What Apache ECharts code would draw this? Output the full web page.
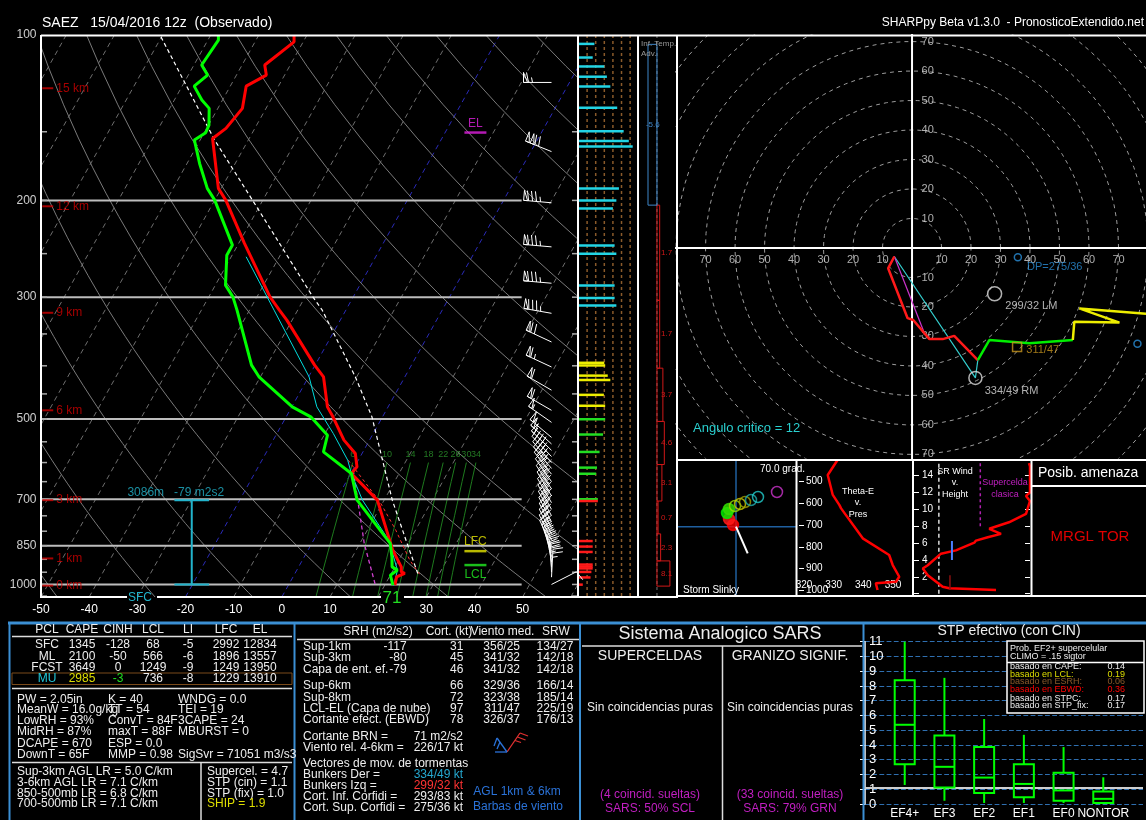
<!DOCTYPE html>
<html><head><meta charset="utf-8"><title>SAEZ 15/04/2016 12z</title>
<script src="https://cdn.jsdelivr.net/npm/echarts@6.0.0/dist/echarts.min.js"></script>
<style>html,body{margin:0;padding:0;background:#000;}#chart{width:1146px;height:820px;}</style>
</head><body><div id="chart"></div>
<script>
// ================= DATA =================
const tempP = [100,102.9,113.4,118.3,123.9,136,147.9,154.3,190.2,199.8,239.5,299.6,316.8,330.3,398.9,418.9,475.1,495.4,546.2,577.5,610.9,628,702.4,819.1,866.1,928.9,948.6,955,968.6,1002.9];
const tempC = [-62.7,-61.9,-65.3,-63.8,-66.7,-64.9,-66.0,-67.6,-60.6,-57.7,-48.8,-37.3,-33.8,-31.1,-20.1,-16.9,-12.6,-10.3,-5.3,-1.4,0.5,0.1,8.6,15.2,17.6,21.3,21.9,22.8,21.5,22.1];
const dewP = [100,102.2,113.4,118.3,123.9,131.3,136,145.9,150.6,155.3,171.3,190.2,199.8,241.2,251.6,285.2,299.6,316.8,398.9,418.9,475.1,495.4,534.9,573.7,628,702.4,842.1,890.7,928.9,941.8,961.8,1002.9];
const dewC = [-78.4,-77.8,-78.4,-76.0,-77.5,-74.3,-71.8,-69.9,-69.7,-71.2,-67.4,-62.9,-60.0,-51.1,-51.1,-47.9,-45.0,-42.6,-33.2,-30.3,-19.9,-14.9,-9.3,-8.2,0.1,4.4,16.3,18.2,19.4,20.9,20.0,21.7];
const wbP = [253.3,316.8,418.9,475.1,531.1,594,628,702.4,830.5,941.8,1004];
const wbC = [-46.9,-34.9,-19.9,-14.8,-8.3,-2.2,0.1,5.5,15.6,20.9,21.9];
const parP = [100.8,155.3,208.3,299.6,316.8,418.9,495.4,702.4,842.1,955];
const parC = [-90.1,-67.0,-49.7,-28.4,-24.9,-10.3,-2.2,11.7,19.8,25.5];
const vpP = [594,708.3,796.4,903.2,961.8];
const vpC = [-2.1,9.4,15.9,22.3,26.2];
const dcP = [619.4,842.1,1004];
const dcC = [0.1,10.9,18.1];
const isobarP = [200,300,500,700,850,1000];
const pressLabels = [100,200,300,500,700,850,1000];
const tempTicks = [-50,-40,-30,-20,-10,0,10,20,30,40,50];
const hgtKm = [0,1,3,6,9,12,15];
const hgtP = [1005,896.7,702.4,482,320.3,205,125];
const mixW = [6,10,14,18,22,26,30,34];
const lvlName = ['LFC','LCL','EL'];
const lvlP = [869.7,922,150.5];
const effP = [1000,702.4];
const effDepth = '3086m';
const effSrh = '-79 m2s2';
const sfcTdF = 71;
// wind speed bars
const windP = [103.8,109.9,114.1,119.1,124.1,135.6,149.7,155.9,159.5,190.2,200.0,206.8,241.5,250.1,285.6,301.2,310.6,395.0,399.4,416.8,424.4,451.8,472.9,500.4,533.5,573.9,612.9,628.8,699.7,705.0,833.7,853.2,872.7,920,927.7,935,948.9,971.1,1000.8];
const windSpd = [37,33,60,66,74,90,105,117,126,94,88,80,84,88,84,84,88,60,62,68,74,59,62,62,57,49,43,41,45,45,33,33,33,33,33,33,30,28,10];
const spdGrid = [20,40,60,80,100,120];
// wind barbs
const barbP = [122,163,202,243,283,321,362,402,443,482,507,540,555,570,585,600,615,630,650,670,690,710,730,750,770,790,810,830,850,870,890,910,930,950,970,1000];
const barbDir = [270,292,275,275,275,280,295,295,300,300,305,310,312,314,316,318,320,322,325,327,329,330,331,332,333,334,334,334,335,340,345,350,355,358,3,63];
const barbSpd = [65,120,85,85,85,85,70,65,60,60,55,55,50,50,45,45,45,40,45,45,45,45,40,40,35,35,35,35,35,35,30,30,30,25,25,10];
// inferred temperature advection
const advBot = [1007,906,809,705,605,505,404,304,204];
const advTop = [906,809,705,605,505,404,304,204,104];
const advVal = [8.1,2.3,0.7,3.1,4.6,3.7,1.7,1.7,-5.6];
// hodograph (kt)
const hodoU = [-6.0,-8.1,-1.5,0.4,5.9,10.4,14.3,22.3,26.2,39.8,54.5,55.0,70.3,56.7,82.0];
const hodoV = [-2.9,-6.9,-23.8,-24.4,-30.9,-30.9,-29.8,-38.0,-31.2,-32.3,-31.2,-25.0,-25.3,-20.5,-22.5];
const hodoBreaks = [7,10];
const hodoCrit = [4.2,-28.9];
const hodoMean = [35.6,-33.6];
const ringR = [10,20,30,40,50,60,70,80,90,100,110];
const ringLab = [10,20,30,40,50,60,70];
const stormName = ['Bunkers Der =','Bunkers Izq =','Cort. Inf. Corfidi =','Cort. Sup. Corfidi ='];
const stormDir = [334,299,293,275];
const stormSpd = [49,32,83,36];
const critAngle = 12;
// storm slinky
const slinkyX = [-3,-7,-9,-7,-1,4,9,15,22,41];
const slinkyY = [1.7,7.7,13.7,17.7,20.7,22.7,24.7,26.7,29.7,34.7];
const slinkyVec = [11.7,-26.6];
const slinkyAng = '70.0 grad.';
// theta-e v pres
const thetaEP = [400,469,561,607,623,761,838,884,938,961,968,999];
const thetaE = [331.3,328.0,329.7,331.9,332.5,339.8,348.7,349.9,352.1,351.0,344.2,344.8];
// SR wind v height
const srwH = [0.44,0.64,0.82,2.2,2.99,3.38,4.75,5.14,6.05,6.3,6.7,7.1,7.7,8.47,9.46,11.0,11.6,12.0,15.1,15.5];
const srwS = [49.5,21.3,17.3,8.3,5.3,8.3,16.3,25.3,36.4,37.4,44.5,52.5,45.4,57.3,67.6,70,67.6,70,70,69.4];
const srwRef = [15,40];
const srwSupBase = 8;
const srMeanS = [21.7,22.9];
const srMeanH0 = [0.44,4.0];
const srMeanH1 = [2.2,6.25];
// tables
const pclName = ['SFC','ML','FCST','MU'];
const pclCape = [1345,2100,3649,2985];
const pclCinh = [-128,-50,0,-3];
const pclLcl = [68,566,1249,736];
const pclLi = [-5,-6,-9,-8];
const pclLfc = [2992,1896,1249,1229];
const pclEl = [12834,13557,13950,13910];
const idxCol1 = ['PW = 2.05in','MeanW = 16.0g/kg','LowRH = 93%','MidRH = 87%','DCAPE = 670','DownT = 65F'];
const idxCol2 = ['K = 40','TT = 54','ConvT = 84F','maxT = 88F','ESP = 0.0','MMP = 0.98'];
const idxCol3 = ['WNDG = 0.0','TEI = 19','3CAPE = 24','MBURST = 0','','SigSvr = 71051 m3/s3'];
const lapseTxt = ['Sup-3km AGL LR = 5.0 C/km','3-6km AGL LR = 7.1 C/km','850-500mb LR = 6.8 C/km','700-500mb LR = 7.1 C/km'];
const svrTxt = ['Supercel. = 4.7','STP (cin) = 1.1','STP (fix) = 1.0','SHIP = 1.9'];
const kinLabel = ['Sup-1km','Sup-3km','Capa de ent. ef.','Sup-6km','Sup-8km','LCL-EL (Capa de nube)','Cortante efect. (EBWD)'];
const kinSrh = ['-117','-80','-79','','','',''];
const kinShear = [31,45,46,66,72,97,78];
const kinMean = ['356/25','341/32','341/32','329/36','323/38','311/47','326/37'];
const kinSrw = ['134/27','142/18','142/18','166/14','185/14','225/19','176/13'];
const brn = '71 m2/s2';
const sr46 = '226/17 kt';
// STP box plot
const stpCats = ['EF4+','EF3','EF2','EF1','EF0','NONTOR'];
const stpMin = [1.29,0.22,0.07,0.07,0.07,0.05];
const stpQ1 = [2.7,1.12,0.74,0.45,0.22,0.07];
const stpMed = [5.37,2.52,1.79,1.36,0.92,0.35];
const stpQ3 = [8.39,4.64,3.86,2.7,2.12,0.85];
const stpMax = [11.0,8.55,5.76,4.69,3.86,1.81];
const stpCin = 1.1;
const probLabel = ['basado en CAPE:','basado en LCL:','basado en ESRH:','basado en EBWD:','basado en STPC:','basado en STP_fix:'];
const probVal = ['0.14','0.19','0.06','0.36','0.17','0.17'];

// ================= BUILD =================
const FONT = '"Liberation Sans", Arial, Helvetica, sans-serif';
const SKEW = 27.7, PBOT = 1054, PTOP = 100;
const skx = (t,p) => t + SKEW*Math.log(PBOT/p);
const prof = (ps,ts) => ps.map((p,i)=>[skx(ts[i],p), p]);
const series = [];
function line(data, color, width, type, xi, yi, z, extra){
  series.push(Object.assign({type:'line', xAxisIndex:xi, yAxisIndex:yi, data:data, symbol:'none', silent:true,
    clip:true, z:z||2, lineStyle:{color:color, width:width, type:type||'solid'}, emphasis:{disabled:true}}, extra||{}));
}
const hgtColor = p => p>=hgtP[2] ? '#ff1a1a' : p>=hgtP[3] ? '#22dd22' : p>=hgtP[4] ? '#eeee00' : '#22d4e4';

// ---- Skew-T background
for(let t=-110;t<=60;t+=10){
  const blue = (t===0||t===-20);
  line([[skx(t,PBOT),PBOT],[skx(t,PTOP),PTOP]], blue?'#2a2ab8':'#6e6e6e', 1, [5,4], 0,0,1);
}
const adP=[]; for(let p=PBOT;p>PTOP;p-=20) adP.push(p); adP.push(PTOP);
for(let th=-50; th<=250; th+=20){
  line(adP.map(p=>[skx((th+273.15)*Math.pow(p/1000,0.2857)-273.15,p),p]), '#7a7a7a', 1, 'solid', 0,0,1);
}
const mrP=[PBOT,1000,950,900,850,800,750,700,650,600];
const mrTop=[];
mixW.forEach(w=>{
  const pts = mrP.map(p=>{const e=w*p/(622+w); const l=Math.log(e/6.112); return [skx(243.5*l/(17.67-l),p),p];});
  line(pts,'#1e7a1e',1,'solid',0,0,1);
  mrTop.push([pts[pts.length-1][0], 600, w]);
});
series.push({type:'scatter', xAxisIndex:0, yAxisIndex:0, data:mrTop, symbolSize:1, silent:true, z:3,
  itemStyle:{color:'rgba(0,0,0,0)'}, label:{show:true, position:'top', distance:3, color:'#2c962c', fontSize:9, fontFamily:FONT, formatter:p=>p.value[2]}});
isobarP.forEach(p=> line([[-50,p],[49.8,p]], '#bdbdbd', 2, 'solid', 0,0,2));
const tickP=[]; for(let p=150;p<=1050;p+=50) tickP.push(p);
series.push({type:'custom', xAxisIndex:0, yAxisIndex:0, silent:true, z:3, data:tickP.map(p=>[-50,p]),
  renderItem:(params,api)=>{ const a=api.coord([-50,api.value(1)]); const b=api.coord([61.5,api.value(1)]);
    return {type:'group', children:[
      {type:'line', shape:{x1:a[0],y1:a[1],x2:a[0]+6,y2:a[1]}, style:{stroke:'#aaa', lineWidth:1.5}},
      {type:'line', shape:{x1:b[0]-6,y1:b[1],x2:b[0],y2:b[1]}, style:{stroke:'#aaa', lineWidth:1.5}}]}; }});

// ---- Profiles
line(prof(dcP,dcC), '#d040d0', 1.3, [4,3], 0,0,5);
line(prof(vpP,vpC), '#ff3030', 1, [3,3], 0,0,5);
line(prof(parP,parC), '#ffffff', 1.2, [4,3], 0,0,5);
line(prof(wbP,wbC), '#00dede', 1, 'solid', 0,0,5);
line(prof(tempP,tempC), '#ff0000', 3, 'solid', 0,0,6);
line(prof(dewP,dewC), '#00ff00', 3, 'solid', 0,0,6);

// ---- Axis annotations
series.push({type:'scatter', xAxisIndex:0, yAxisIndex:0, silent:true, z:8, symbolSize:1, itemStyle:{color:'rgba(0,0,0,0)'},
  data:pressLabels.map(p=>[-50,p]), clip:false,
  label:{show:true, position:'left', distance:4, color:'#fff', fontSize:12, fontFamily:FONT, formatter:p=>p.value[1]}});
series.push({type:'scatter', xAxisIndex:0, yAxisIndex:0, silent:true, z:8, symbol:'rect', symbolSize:[11,2],
  itemStyle:{color:'#d00000'}, data:hgtP.map((p,i)=>[-48.6,p,hgtKm[i]]),
  label:{show:true, position:'right', distance:3, color:'#d00000', fontSize:12, fontFamily:FONT, formatter:p=>p.value[2]+' km'}});
const lvlCol = ['#e6e600','#22ee22','#e020e0'];
series.push({type:'scatter', xAxisIndex:0, yAxisIndex:0, silent:true, z:8, symbol:'rect', symbolSize:[22,2.5],
  data:lvlP.map((p,i)=>({value:[40.2,p], itemStyle:{color:lvlCol[i]},
    label:{show:true, position:lvlName[i]==='LCL'?'bottom':'top', distance:2, color:lvlCol[i], fontSize:12, fontFamily:FONT, formatter:lvlName[i]}}))});
// effective inflow layer
const EFX = -18.7;
line([[EFX,effP[0]],[EFX,effP[1]]], '#22b4cc', 2, 'solid', 0,0,7);
effP.forEach(p=> line([[EFX-3.6,p],[EFX+3.6,p]], '#22b4cc', 2, 'solid', 0,0,7));
series.push({type:'scatter', xAxisIndex:0, yAxisIndex:0, silent:true, z:8, symbolSize:1, itemStyle:{color:'rgba(0,0,0,0)'},
  data:[[EFX,effP[1]]], label:{show:true, position:'top', distance:1, offset:[-16,0], color:'#22b4cc', fontSize:12, fontFamily:FONT, formatter:effDepth+'   '+effSrh}});

// ---- Wind barbs
const BARB_X = 56.0;
function barb(cx,cy,dir,spd){
  const ch=[]; const L=28, F=10, G=4, st={stroke:'#fff', lineWidth:1, fill:'none'};
  const r=dir*Math.PI/180, ux=Math.sin(r), uy=-Math.cos(r), px=-uy, py=ux;
  const tx0=cx+ux*L, ty0=cy+uy*L;
  ch.push({type:'line', shape:{x1:cx,y1:cy,x2:tx0,y2:ty0}, style:st});
  let s=Math.round(spd/5)*5, d=0;
  while(s>=50){ const ax=tx0-ux*d, ay=ty0-uy*d, bx=tx0-ux*(d+G), by=ty0-uy*(d+G);
    ch.push({type:'polygon', shape:{points:[[ax,ay],[ax+px*F,ay+py*F],[bx,by]]}, style:st}); d+=G+1; s-=50; }
  while(s>=10){ const ax=tx0-ux*d, ay=ty0-uy*d;
    ch.push({type:'line', shape:{x1:ax,y1:ay,x2:ax+px*F+ux*2,y2:ay+py*F+uy*2}, style:st}); d+=G; s-=10; }
  if(s>=5){ const ax=tx0-ux*d, ay=ty0-uy*d;
    ch.push({type:'line', shape:{x1:ax,y1:ay,x2:ax+px*F*0.5+ux,y2:ay+py*F*0.5+uy}, style:st}); }
  return {type:'group', children:ch};
}
series.push({type:'custom', xAxisIndex:0, yAxisIndex:0, silent:true, clip:false, z:7,
  data:barbP.map((p,i)=>[BARB_X,p,barbDir[i],barbSpd[i]]),
  renderItem:(params,api)=>{ const pt=api.coord([api.value(0),api.value(1)]); return barb(pt[0],pt[1],api.value(2),api.value(3)); }});

// ---- Wind speed bars (grid 1)
spdGrid.forEach(v=> line([[v,PTOP],[v,PBOT]], '#8a5a2a', 1.5, [3,3], 1,1,1));
series.push({type:'custom', xAxisIndex:1, yAxisIndex:1, silent:true, z:4, data:windP.map((p,i)=>[windSpd[i],p]),
  renderItem:(params,api)=>{ const p=api.value(1); const a=api.coord([0,p]), b=api.coord([api.value(0),p]);
    return {type:'line', shape:{x1:a[0],y1:a[1],x2:b[0],y2:b[1]}, style:{stroke:hgtColor(p), lineWidth:2.5}}; }});

// ---- Inferred temperature advection (grid 2)
line([[0,PTOP],[0,PBOT]], '#777', 1, [3,3], 2,2,1);
series.push({type:'custom', xAxisIndex:2, yAxisIndex:2, silent:true, z:4, data:advVal.map((v,i)=>[v,advBot[i],advTop[i]]),
  renderItem:(params,api)=>{ const v=api.value(0), pb=api.value(1), pt=api.value(2);
    const a=api.coord([0,pt]), b=api.coord([v,pb]); const neg=v<0; const col=neg?'#3f86c8':'#d01818';
    const m=api.coord([neg?-2.6:2.6, Math.sqrt(pb*pt)]);
    return {type:'group', children:[
      {type:'rect', shape:{x:Math.min(a[0],b[0]), y:a[1], width:Math.max(Math.abs(b[0]-a[0]),1), height:b[1]-a[1]}, style:{stroke:col, fill:'none', lineWidth:1}},
      {type:'text', x:m[0], y:m[1], style:{text:v.toFixed(1), fill:col, font:'8px '+FONT, textAlign:neg?'center':'left', textVerticalAlign:'middle', align:neg?'center':'left', verticalAlign:'middle'}}]}; }});

// ---- Hodograph (grid 3)
ringR.forEach(r=>{ const pts=[]; for(let a=0;a<=360;a+=4){ const t=a*Math.PI/180; pts.push([r*Math.cos(t), r*Math.sin(t)]); }
  line(pts,'#9c9c9c',1,[4,4],3,3,1); });
line([[0,-90],[0,90]], '#ffffff', 2, 'solid', 3,3,2);
line([[-90,0],[90,0]], '#ffffff', 2, 'solid', 3,3,2);
series.push({type:'scatter', xAxisIndex:3, yAxisIndex:3, silent:true, z:3, symbolSize:1, itemStyle:{color:'rgba(0,0,0,0)'},
  data:ringLab.map(r=>[0,r,r]).concat(ringLab.map(r=>[0,-r,r])),
  label:{show:true, position:'right', distance:9, color:'#d8d8d8', fontSize:11, fontFamily:FONT, formatter:p=>p.value[2]}});
series.push({type:'scatter', xAxisIndex:3, yAxisIndex:3, silent:true, z:3, symbolSize:1, itemStyle:{color:'rgba(0,0,0,0)'},
  data:ringLab.map(r=>[-r,0,r]).concat(ringLab.map(r=>[r,0,r])),
  label:{show:true, position:'bottom', distance:6, color:'#d8d8d8', fontSize:11, fontFamily:FONT, formatter:p=>p.value[2]}});
const hodoPts = hodoU.map((u,i)=>[u,hodoV[i]]);
const uv = (d,s)=>{ const r=d*Math.PI/180; return [-s*Math.sin(r), -s*Math.cos(r)]; };
const rm = uv(stormDir[0],stormSpd[0]), lm = uv(stormDir[1],stormSpd[1]);
const cup = uv(stormDir[2],stormSpd[2]), cdn = uv(stormDir[3],stormSpd[3]);
line([hodoPts[0], rm, hodoPts[hodoBreaks[0]]], '#33cccc', 1.2, 'solid', 3,3,5);
line([hodoPts[0], hodoCrit], '#cc33cc', 1.2, 'solid', 3,3,5);
line(hodoPts.slice(0,hodoBreaks[0]+1), '#ff1a1a', 2.5, 'solid', 3,3,6);
line(hodoPts.slice(hodoBreaks[0],hodoBreaks[1]+1), '#00ee00', 2.5, 'solid', 3,3,6);
line(hodoPts.slice(hodoBreaks[1]), '#eeee00', 2.5, 'solid', 3,3,6);
const mk = (pt,sym,size,col,txt,dist,off,tcol)=>({value:pt, symbol:sym, symbolSize:size,
  itemStyle:{color:'rgba(0,0,0,0)', borderColor:col, borderWidth:1.5},
  label:{show:!!txt, position:'right', distance:dist, offset:off, color:tcol||col, fontSize:11, fontFamily:FONT, formatter:txt||''}});
series.push({type:'scatter', xAxisIndex:3, yAxisIndex:3, silent:true, z:7, data:[
  mk(rm,'circle',13,'#dddddd',stormDir[0]+'/'+stormSpd[0]+' RM',2,[0,13]),
  mk(lm,'circle',14,'#dddddd',stormDir[1]+'/'+stormSpd[1]+' LM',3,[0,12]),
  mk(hodoMean,'rect',9,'#c8961e',kinMean[5],4,[0,3]),
  mk(cdn,'circle',7,'#2a8fd8','DP='+stormDir[3]+'/'+stormSpd[3],5,[0,10]),
  mk(cup,'circle',7,'#2a8fd8','',0,[0,0])]});

// ---- Storm slinky (grid 4)
line([[0,-80],[0,80]], '#1f5f9f', 1.5, 'solid', 4,4,1);
line([[-80,0],[80,0]], '#1f5f9f', 1.5, 'solid', 4,4,1);
line([[0,0],slinkyVec], '#ffffff', 2, 'solid', 4,4,6);
const slPal = ['#ff0000','#ff1a1a','#00ee00','#33dd00','#99dd00','#cccc00','#a0a000','#22aaaa','#22cccc','#cc33cc'];
series.push({type:'scatter', xAxisIndex:4, yAxisIndex:4, silent:true, z:5, symbolSize:11,
  data:slinkyX.map((x,i)=>({value:[x,slinkyY[i]], itemStyle:{color:i<4?slPal[i]:'rgba(0,0,0,0)', borderColor:slPal[i], borderWidth:1.5}}))});

// ---- Theta-E v Pres (grid 5)
line(thetaEP.map((p,i)=>[thetaE[i],p]), '#ff0000', 2.5, 'solid', 5,5,5);

// ---- SR wind v height (grid 6)
line([[srwRef[0],0],[srwRef[0],16]], '#dddddd', 1.5, [4,3], 6,6,2);
line([[srwRef[1],srwSupBase],[srwRef[1],16]], '#b020b0', 1.5, [3,3], 6,6,2);
line(srwH.map((h,i)=>[srwS[i],h]), '#ff0000', 2.5, 'solid', 6,6,5);
line([[srMeanS[0],srMeanH0[0]],[srMeanS[0],srMeanH1[0]]], '#8a1010', 1.5, 'solid', 6,6,6);
line([[srMeanS[1],srMeanH0[1]],[srMeanS[1],srMeanH1[1]]], '#4a7fff', 2, 'solid', 6,6,6);

// ---- STP box plot (grid 7)
series.push({type:'custom', xAxisIndex:7, yAxisIndex:8, silent:true, z:5, clip:false,
  data:stpCats.map((c,i)=>[i+1,stpMin[i],stpQ1[i],stpMed[i],stpQ3[i],stpMax[i]]), encode:{x:0, y:[1,2,3,4,5]},
  renderItem:(params,api)=>{ const x=api.value(0); const P=k=>api.coord([x,api.value(k)]);
    const mn=P(1), q1=P(2), md=P(3), q3=P(4), mx=P(5), hw=10, st={stroke:'#00ff00', lineWidth:2, fill:'none'};
    return {type:'group', children:[
      {type:'line', shape:{x1:mx[0],y1:mx[1],x2:q3[0],y2:q3[1]}, style:st},
      {type:'line', shape:{x1:q1[0],y1:q1[1],x2:mn[0],y2:mn[1]}, style:st},
      {type:'rect', shape:{x:q3[0]-hw,y:q3[1],width:2*hw,height:q1[1]-q3[1]}, style:st},
      {type:'line', shape:{x1:md[0]-hw,y1:md[1],x2:md[0]+hw,y2:md[1]}, style:st}]}; },
  markLine:{silent:true, symbol:'none', label:{show:false}, lineStyle:{color:'#cfcfcf', width:2, type:'solid'}, data:[{yAxis:stpCin}]}});

// ================= AXES =================
const hidden = {show:false};
const logY = gi => ({gridIndex:gi, type:'log', min:PTOP, max:PBOT, inverse:true, show:false});
const option = {
  backgroundColor:'#000', animation:false,
  grid:[
    {left:41, top:35, width:537, height:562},
    {left:578.5, top:35, width:58.5, height:562},
    {left:640, top:35, width:36, height:562},
    {left:676, top:35, width:470, height:423},
    {left:678, top:461, width:117, height:134},
    {left:804, top:460, width:108, height:136.7},
    {left:914, top:460, width:116, height:133.7},
    {left:865, top:641.7, width:283, height:164.3}
  ],
  xAxis:[
    {gridIndex:0, type:'value', min:-50, max:61.5, interval:10, axisLine:hidden, axisTick:hidden, splitLine:hidden,
      axisLabel:{color:'#fff', fontSize:12, fontFamily:FONT, margin:7, formatter:v=> tempTicks.indexOf(v)>=0 ? String(v) : ''}},
    {gridIndex:1, type:'value', min:0, max:136, show:false},
    {gridIndex:2, type:'value', min:-10.6, max:11.9, show:false},
    {gridIndex:3, type:'value', min:-80, max:79.3, show:false},
    {gridIndex:4, type:'value', min:-58, max:59, show:false},
    {gridIndex:5, type:'value', min:320, max:356.4, interval:10, axisLine:hidden, axisTick:hidden, splitLine:hidden,
      axisLabel:{inside:true, color:'#fff', fontSize:10, fontFamily:FONT, margin:6, formatter:v=> (v%10===0 && v<=350) ? String(v) : ''}},
    {gridIndex:6, type:'value', min:0, max:70, show:false},
    {gridIndex:7, type:'category', data:[''].concat(stpCats,['']), boundaryGap:false, axisLine:hidden, axisTick:hidden, splitLine:hidden,
      axisLabel:{interval:0, color:'#fff', fontSize:12, fontFamily:FONT, margin:4}}
  ],
  yAxis:[
    logY(0), logY(1), logY(2),
    {gridIndex:3, type:'value', min:-71.2, max:72.2, show:false},
    {gridIndex:4, type:'value', min:-68.3, max:65.7, show:false},
    {gridIndex:5, type:'value', min:400, max:1030, interval:100, inverse:true, axisLine:hidden, splitLine:hidden,
      axisTick:{show:true, length:5, lineStyle:{color:'#fff'}},
      axisLabel:{inside:true, color:'#fff', fontSize:10, fontFamily:FONT, margin:2, formatter:v=> (v>=500 && v<=1000 && v%100===0) ? String(v) : ''}},
    {gridIndex:6, type:'value', min:0, max:15.86, interval:2, axisLine:hidden, splitLine:hidden,
      axisTick:{show:true, inside:true, length:5, lineStyle:{color:'#fff'}},
      axisLabel:{inside:true, color:'#fff', fontSize:10, fontFamily:FONT, margin:8, formatter:v=> (v>=2 && v<=14 && v%2===0) ? String(v) : ''}},
    {gridIndex:6, type:'value', position:'right', min:0, max:15.86, interval:2, axisLine:hidden, splitLine:hidden, axisLabel:hidden,
      axisTick:{show:true, inside:true, length:5, lineStyle:{color:'#fff'}}},
    {gridIndex:7, type:'value', min:0, max:11, interval:1, axisLine:{show:true, lineStyle:{color:'#fff', width:1.5}},
      axisTick:{show:true, length:5, lineStyle:{color:'#fff'}},
      splitLine:{show:true, lineStyle:{color:'#2f6fb0', type:'dashed', width:1.2}},
      axisLabel:{inside:true, color:'#fff', fontSize:13, fontFamily:FONT, margin:4}}
  ],
  series:series
};

// ================= GRAPHIC (frames & text panels) =================
function tx(x,y,text,fill,size,align){
  return {type:'text', x:x, y:y, silent:true, z:50, style:{text:String(text), fill:fill||'#eee', font:(size||12)+'px '+FONT,
    textAlign:align||'left', align:align||'left', textVerticalAlign:'middle', verticalAlign:'middle'}};
}
function ln(x1,y1,x2,y2,color,w){ return {type:'line', silent:true, z:40, shape:{x1:x1,y1:y1,x2:x2,y2:y2}, style:{stroke:color, lineWidth:w||1}}; }
function rc(x,y,w,h,stroke,fill,lw){ return {type:'rect', silent:true, z:39, shape:{x:x,y:y,width:w,height:h}, style:{stroke:stroke, fill:fill, lineWidth:lw||1}}; }
const G = [];
const W='#ffffff', BL='#3b8fd4', TXT='#eeeeee';
// upper frames
G.push(ln(41,35.5,1146,35.5,W,2), ln(41,35,41,598,W,2), ln(578,35,578,598,W,2), ln(638,35,638,598,W,2), ln(677,35,677,598,W,2));
G.push(ln(41,597,127,597,W,2), ln(157,597,381,597,W,2), ln(404,597,677,597,W,2));
G.push(ln(677,460,1146,460,W,2), ln(677,596,1146,596,W,2), ln(796.5,460,796.5,596,W,2), ln(913,460,913,596,W,2), ln(1031.5,460,1031.5,596,W,2), ln(1031.5,486,1146,486,W,2));
G.push(tx(42,23,'SAEZ   15/04/2016 12z  (Observado)',W,14));
G.push(tx(1144,23,'SHARPpy Beta v1.3.0  - PronosticoExtendido.net',W,12,'right'));
G.push(tx(140,598,'SFC','#22b4cc',12,'center'), tx(392,598,String(sfcTdF),'#22dd22',17,'center'));
G.push(tx(641,44,'Inf. Temp.','#9a9a9a',8), tx(641,53.5,'Adv.','#9a9a9a',8));
G.push(tx(693,428,'Angulo critico = '+critAngle,'#2ad0d0',13));
G.push(tx(760,469,slinkyAng,W,10), tx(683,590,'Storm Slinky',W,10));
G.push(tx(858,492,'Theta-E',W,9,'center'), tx(858,503,'v.',W,9,'center'), tx(858,515,'Pres',W,9,'center'));
G.push(tx(955,472,'SR Wind',W,9,'center'), tx(955,483,'v.',W,9,'center'), tx(955,495,'Height',W,9,'center'));
G.push(tx(1005,483,'Supercelda','#c020c0',9,'center'), tx(1005,495,'clasica','#c020c0',9,'center'));
G.push(tx(1038,473,'Posib. amenaza',W,14), tx(1090,537,'MRGL TOR','#e00000',15,'center'));
// bottom frames
G.push(ln(8,623,1146,623,BL,3), ln(9.5,622,9.5,820,BL,2), ln(294.5,622,294.5,820,BL,2), ln(580,622,580,820,BL,2), ln(863.5,622,863.5,820,BL,2));
G.push(ln(12,636.5,292,636.5,'#ddd',1.5), ln(12,688.5,292,688.5,'#ddd',1.5), ln(12,762.5,292,762.5,'#ddd',1.5), ln(201,762.5,201,820,'#ddd',1.5));
G.push(rc(12,673,280,11.5,'#7a4a1a','none',1));
G.push(ln(297,639.5,579,639.5,'#ddd',1.5));
G.push(ln(582,646,862,646,'#ddd',1.5), ln(722.5,646,722.5,820,'#ddd',1.5));
// thermo table
const thCols=[47,82,118,153,188,226,260];
['PCL','CAPE','CINH','LCL','LI','LFC','EL'].forEach((h,i)=>G.push(tx(thCols[i],630,h,TXT,12,'center')));
const thRows=[645,656.3,667.5,678.7];
pclName.forEach((n,r)=>{
  [n,pclCape[r],pclCinh[r],pclLcl[r],pclLi[r],pclLfc[r],pclEl[r]].forEach((v,i)=>{
    let c=TXT; if(n==='MU'){ if(i===0)c='#22c8d8'; if(i===1)c='#dede00'; if(i===2)c='#22dd22'; }
    G.push(tx(thCols[i],thRows[r],v,c,12,'center'));
  });
});
const idxRows=[699.3,710,720.7,732,743.3,754.3];
idxCol1.forEach((t,i)=>G.push(tx(17,idxRows[i],t,TXT,12)));
idxCol2.forEach((t,i)=>G.push(tx(108,idxRows[i],t,TXT,12)));
idxCol3.forEach((t,i)=>{ if(t) G.push(tx(178,idxRows[i],t,TXT,12)); });
const lrRows=[771.7,782.3,793.3,804];
lapseTxt.forEach((t,i)=>G.push(tx(17,lrRows[i],t,TXT,12)));
svrTxt.forEach((t,i)=>G.push(tx(207,lrRows[i],t,i===3?'#dede00':TXT,12)));
// kinematic table
G.push(tx(378,631.7,'SRH (m2/s2)',TXT,12,'center'), tx(449,631.7,'Cort. (kt)',TXT,12,'center'), tx(502.5,631.7,'Viento med.',TXT,12,'center'), tx(556,631.7,'SRW',TXT,12,'center'));
const kinRows=[646.7,657.7,669.3,686,697.3,708.3,719.3];
kinLabel.forEach((t,i)=>{
  G.push(tx(303,kinRows[i],t,TXT,12));
  if(kinSrh[i]) G.push(tx(406.7,kinRows[i],kinSrh[i],TXT,12,'right'));
  G.push(tx(463.3,kinRows[i],kinShear[i],TXT,12,'right'), tx(520,kinRows[i],kinMean[i],TXT,12,'right'), tx(573.3,kinRows[i],kinSrw[i],TXT,12,'right'));
});
G.push(tx(303,736.7,'Cortante BRN =',TXT,12), tx(463,736.7,brn,TXT,12,'right'));
G.push(tx(303,747.3,'Viento rel. 4-6km =',TXT,12), tx(463,747.3,sr46,TXT,12,'right'));
G.push(tx(303,764,'Vectores de mov. de tormentas',TXT,12));
const stRows=[775,785.7,796.3,807.7], stCols=['#25a8d0','#ff3333',TXT,TXT];
stormName.forEach((n,i)=>{ G.push(tx(303,stRows[i],n,TXT,12), tx(463,stRows[i],stormDir[i]+'/'+stormSpd[i]+' kt',stCols[i],12,'right')); });
G.push(ln(507,752,520,733,'#e03030',1.3), ln(520,733,528,736,'#e03030',1.3), ln(517.5,737,525.5,740,'#e03030',1.3), ln(515,740.5,521,742.5,'#e03030',1.3));
G.push(ln(507,752,497,738,'#2a72d8',1.3), ln(497,738,494,746,'#2a72d8',1.3), ln(500,742,497,749,'#2a72d8',1.3), ln(495,752,507,752,'#2a72d8',1.3));
G.push(tx(517,792,'AGL 1km & 6km','#2a72d8',12,'center'), tx(518,806.7,'Barbas de viento','#2a72d8',12,'center'));
// SARS
G.push(tx(720,634.5,'Sistema Analogico SARS',TXT,18,'center'));
G.push(tx(650,656,'SUPERCELDAS',TXT,14,'center'), tx(790,656,'GRANIZO SIGNIF.',TXT,14,'center'));
G.push(tx(650,707.3,'Sin coincidencias puras',TXT,12,'center'), tx(790,707.3,'Sin coincidencias puras',TXT,12,'center'));
G.push(tx(650,795,'(4 coincid. sueltas)','#c21fc2',12,'center'), tx(650,808.7,'SARS: 50% SCL','#c21fc2',12,'center'));
G.push(tx(790,795,'(33 coincid. sueltas)','#c21fc2',12,'center'), tx(790,808.7,'SARS: 79% GRN','#c21fc2',12,'center'));
// STP
G.push(tx(1009,631,'STP efectivo (con CIN)',TXT,14,'center'));
G.push(rc(1007,641,137,72,'#ffffff','#000000',1.5), ln(1007,662.5,1144,662.5,'#ffffff',1.5));
G.push(tx(1010,648.5,'Prob. EF2+ supercelular',TXT,9), tx(1010,656.5,'CLIMO = .15 sigtor',TXT,9));
const prRows=[666.7,674.3,681.9,690,698.1,706], prCols=[TXT,'#dede00','#8b5a2b','#ff0000',TXT,TXT];
probLabel.forEach((t,i)=>G.push(tx(1010,prRows[i],t,prCols[i],9), tx(1125,prRows[i],probVal[i],prCols[i],9,'right')));
option.graphic = {elements:G};

const chart = echarts.init(document.getElementById('chart'), null, {renderer:'canvas'});
chart.setOption(option);
</script></body></html>
